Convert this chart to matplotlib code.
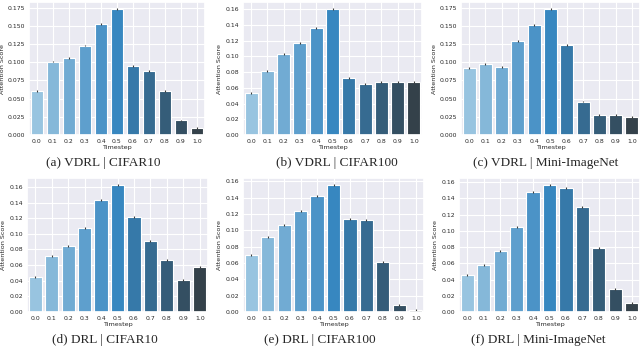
import matplotlib
matplotlib.use("Agg")
import matplotlib.pyplot as plt
import seaborn as sns
import numpy as np

sns.set_theme(style="darkgrid")
plt.rcParams['font.family'] = ['DejaVu Sans']

# Timestep categories
timesteps = ["0.0", "0.1", "0.2", "0.3", "0.4", "0.5", "0.6", "0.7", "0.8", "0.9", "1.0"]

# attention score per timestep
vdrl_cifar10 = [0.061, 0.101, 0.106, 0.123, 0.153, 0.173, 0.095, 0.088, 0.061, 0.020, 0.010]
vdrl_cifar100 = [0.053, 0.081, 0.103, 0.117, 0.136, 0.160, 0.073, 0.065, 0.067, 0.067, 0.067]
vdrl_mini = [0.092, 0.098, 0.094, 0.129, 0.151, 0.173, 0.124, 0.046, 0.027, 0.028, 0.025]
drl_cifar10 = [0.045, 0.072, 0.084, 0.107, 0.143, 0.162, 0.122, 0.091, 0.066, 0.041, 0.057]
drl_cifar100 = [0.070, 0.092, 0.107, 0.124, 0.142, 0.155, 0.114, 0.113, 0.061, 0.008, 0.002]
drl_mini = [0.045, 0.058, 0.075, 0.105, 0.148, 0.156, 0.153, 0.129, 0.079, 0.028, 0.011]
err = 0.0012  # small error bars

captions = ["(a) VDRL | CIFAR10", "(b) VDRL | CIFAR100", "(c) VDRL | Mini-ImageNet",
            "(d) DRL | CIFAR10", "(e) DRL | CIFAR100", "(f) DRL | Mini-ImageNet"]
series = [vdrl_cifar10, vdrl_cifar100, vdrl_mini, drl_cifar10, drl_cifar100, drl_mini]

W, H = 640, 349
# axes boxes in pixels: left, right, top, bottom
boxes = [(29, 205, 2, 135), (243, 422, 2, 135), (461, 640, 2, 135),
         (27, 208, 178, 312), (243, 424, 178, 312), (459, 640, 178, 312)]
cap_pos = [(103, 163), (337, 163), (546, 163), (105, 340), (320, 340), (538, 340)]
tick_step = [0.025, 0.02, 0.025, 0.02, 0.02, 0.02]
tick_fmt = ["{:.3f}", "{:.2f}", "{:.3f}", "{:.2f}", "{:.2f}", "{:.2f}"]

colors = sns.color_palette("Blues_d", len(timesteps))

fig = plt.figure(figsize=(6.4, 3.49), dpi=100)
for i in range(6):
    l, r, t, b = boxes[i]
    ax = fig.add_axes([l / W, 1 - b / H, (r - l) / W, (b - t) / H])
    x = np.arange(len(timesteps))
    ax.bar(x, series[i], width=0.8, color=colors, edgecolor="white", linewidth=0.8,
           yerr=err, error_kw=dict(ecolor="#3a3a3a", elinewidth=0.8, capsize=0))
    ax.set_xlim(-0.5, len(timesteps) - 0.5)
    top = (max(series[i]) + err) * 1.05
    ax.set_ylim(0, top)
    yt = np.arange(0, top, tick_step[i])
    ax.set_yticks(yt)
    ax.set_yticklabels([tick_fmt[i].format(v) for v in yt])
    ax.set_xticks(x)
    ax.set_xticklabels(timesteps)
    ax.tick_params(labelsize=4.4, pad=3, length=0)
    ax.set_xlabel("Timestep", fontsize=4.6, labelpad=0.5)
    ax.set_ylabel("Attention Score", fontsize=4.6, labelpad=2)
    ax.grid(True, color="white", linewidth=0.8)
    ax.set_axisbelow(True)
    cx, cy = cap_pos[i]
    fig.text(cx / W, 1 - cy / H, captions[i], ha="center", va="center",
             fontsize=9.5, family="Liberation Serif")

fig.savefig("out.png", dpi=100)
